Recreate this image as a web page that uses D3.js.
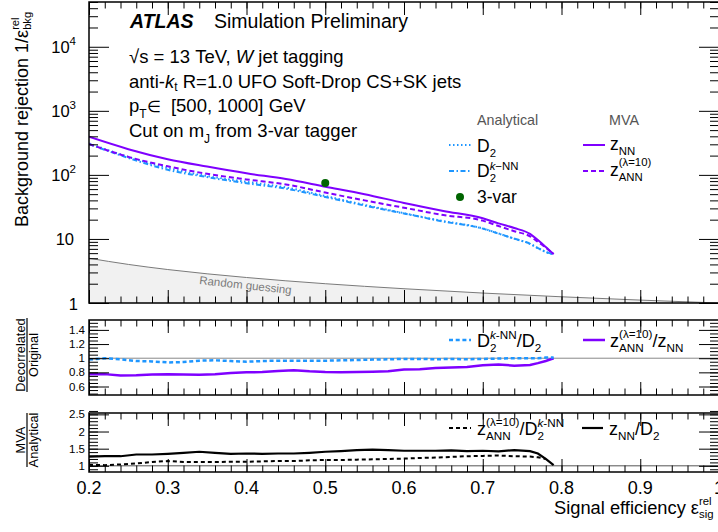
<!DOCTYPE html>
<html><head><meta charset="utf-8">
<script src="https://cdn.jsdelivr.net/npm/d3@7"></script>
<style>
html,body{margin:0;padding:0;background:#fff;}
svg{font-family:"Liberation Sans",Arial,Helvetica,sans-serif;}
</style></head>
<body><svg id="c" width="718" height="532"></svg>
<script>
// ---------------- DATA ----------------
const effMain = [0.2, 0.25, 0.3, 0.35, 0.4, 0.45, 0.5, 0.55, 0.6, 0.65, 0.7, 0.72, 0.74, 0.76, 0.77, 0.78, 0.79];
const rejZNN   = [393, 252, 176, 135, 106, 86, 65.5, 50, 36.5, 27.4, 21, 17.5, 14.8, 12, 9.6, 7.5, 5.8];
const rejZANN  = [303, 191, 136, 104, 85, 71, 53, 40, 30.7, 23.6, 19.3, 15.9, 13.2, 11, 9.0, 7.3, 5.8];
const rejD2    = [309, 191, 128, 96, 78, 63.7, 46.8, 34, 25.2, 19, 14.6, 12.2, 10.1, 8.4, 7.2, 6.25, 5.7];
const rejD2kNN = [303, 184, 120, 92.4, 74, 61, 45.2, 33.2, 25, 18.7, 14.5, 12.1, 10.1, 8.4, 7.2, 6.3, 5.75];
const randomEff = [0.2, 0.25, 0.3, 0.4, 0.5, 0.6, 0.7, 0.8, 0.9, 1.0];
const randomRej = [5, 4, 3.33, 2.5, 2, 1.67, 1.43, 1.25, 1.11, 1];
const threeVarEff = [0.5];
const threeVarRej = [75];

const effRatio = [0.2,0.22,0.24,0.26,0.28,0.3,0.32,0.34,0.36,0.38,0.4,0.42,0.44,0.46,0.48,0.5,0.52,0.54,0.56,0.58,0.6,0.62,0.64,0.66,0.68,0.7,0.72,0.74,0.76,0.77,0.78,0.79];
const ratioD2kNN_D2 = [0.98,1.0,0.985,0.96,0.955,0.94,0.945,0.965,0.97,0.96,0.95,0.96,0.965,0.965,0.965,0.965,0.97,0.975,0.98,0.985,0.99,0.99,0.985,0.99,0.985,0.99,0.995,1.0,1.0,1.0,1.01,1.01];
const ratioZANN_ZNN = [0.775,0.775,0.755,0.76,0.77,0.775,0.77,0.765,0.775,0.79,0.80,0.805,0.82,0.83,0.815,0.805,0.80,0.805,0.81,0.815,0.84,0.845,0.86,0.87,0.875,0.9,0.91,0.895,0.905,0.93,0.96,1.0];
const ratioZNN_D2 = [1.27,1.28,1.28,1.33,1.33,1.35,1.38,1.41,1.38,1.35,1.36,1.35,1.36,1.36,1.38,1.41,1.43,1.46,1.47,1.46,1.44,1.44,1.44,1.45,1.43,1.44,1.42,1.46,1.43,1.36,1.2,1.02];
const ratioZANN_D2kNN = [1.03,1.02,1.04,1.07,1.11,1.14,1.11,1.11,1.11,1.12,1.12,1.13,1.14,1.14,1.16,1.17,1.17,1.18,1.19,1.20,1.21,1.23,1.24,1.26,1.28,1.29,1.30,1.28,1.27,1.25,1.2,null];

const xTickValues = [0.2,0.3,0.4,0.5,0.6,0.7,0.8,0.9,1.0];
const xTickLabels = ["0.2","0.3","0.4","0.5","0.6","0.7","0.8","0.9","1"];
const mainYTicks = [1,10,100,1000,10000];
const mainYExp = ["1","10","2","3","4"];
const midYTicks = [0.6,0.8,1,1.2,1.4];
const midYLabels = ["0.6","0.8","1","1.2","1.4"];
const botYTicks = [1,1.5,2,2.5];
const botYLabels = ["1","1.5","2","2.5"];

// ---------------- STYLE ----------------
const BLUE = "#1e96ff", PURPLE = "#7f00ff", GREEN = "#006400";
const svg = d3.select("#c");
const L = 89, R = 719;
const x = d3.scaleLinear().domain([0.2, 1.0]).range([L, R]);
const yMain = d3.scaleLog().domain([1, 5e4]).range([303, 2]);
const yMid = d3.scaleLinear().domain([0.48, 1.54]).range([395, 320]);
const yBot = d3.scaleLinear().domain([0.82, 2.54]).range([472, 413]);

// rich text helper
function rich(parent, px, py, parts, size, opt = {}) {
  const g = parent.append("g");
  let cx = 0;
  const draw = (p, sx) => {
    const fs = size * (p.s || 1);
    const t = g.append("text").attr("x", sx).attr("y", (p.dy || 0) * size)
      .attr("font-size", fs).text(p.t.replace(/ /g, "\u00A0"));
    if (p.it) t.attr("font-style", "italic");
    if (p.b) t.attr("font-weight", "bold");
    return t.node().getComputedTextLength();
  };
  for (const p of parts) {
    if (p.stack) {
      let w = 0;
      for (const seq of p.stack) { let sx = cx; for (const q of seq) sx += draw(q, sx); w = Math.max(w, sx - cx); }
      cx += w;
    } else cx += draw(p, cx);
  }
  const off = opt.anchor === "end" ? -cx : opt.anchor === "middle" ? -cx / 2 : 0;
  g.attr("transform", `translate(${px},${py})${opt.rotate != null ? ` rotate(${opt.rotate})` : ""} translate(${off},0)`);
  g.attr("fill", opt.fill || "#000");
  return g;
}
const P = (t, o = {}) => Object.assign({ t }, o);
const SUP = (t, o = {}) => Object.assign({ t, s: 0.65, dy: -0.42 }, o);
const SUB = (t, o = {}) => Object.assign({ t, s: 0.65, dy: 0.3 }, o);

function frameTicks(top, bottom, yScale, yMaj, yMin, majY, minY) {
  const g = svg.append("g");
  const xMaj = xTickValues;
  const xMin = d3.range(0, 41).map(i => 0.2 + i * 0.02);
  const add = (axis, tr) => {
    const a = g.append("g").attr("transform", tr).call(axis);
    a.select(".domain").remove();
    a.selectAll(".tick line").attr("stroke", "#000").attr("stroke-width", 1);
  };
  add(d3.axisBottom(x).tickValues(xMin).tickSize(-6.5).tickFormat(""), `translate(0,${bottom})`);
  add(d3.axisBottom(x).tickValues(xMaj).tickSize(-13).tickFormat(""), `translate(0,${bottom})`);
  add(d3.axisTop(x).tickValues(xMin).tickSize(-6.5).tickFormat(""), `translate(0,${top})`);
  add(d3.axisTop(x).tickValues(xMaj).tickSize(-13).tickFormat(""), `translate(0,${top})`);
  add(d3.axisLeft(yScale).tickValues(yMin).tickSize(-minY).tickFormat(""), `translate(${L},0)`);
  add(d3.axisLeft(yScale).tickValues(yMaj).tickSize(-majY).tickFormat(""), `translate(${L},0)`);
  add(d3.axisRight(yScale).tickValues(yMin).tickSize(-minY).tickFormat(""), `translate(${R},0)`);
  add(d3.axisRight(yScale).tickValues(yMaj).tickSize(-majY).tickFormat(""), `translate(${R},0)`);
  svg.append("rect").attr("x", L).attr("y", top).attr("width", R - L).attr("height", bottom - top)
    .attr("fill", "none").attr("stroke", "#000").attr("stroke-width", 1.5);
}

const defs = svg.append("defs");
function clip(id, top, bottom) {
  defs.append("clipPath").attr("id", id).append("rect").attr("x", L).attr("y", top).attr("width", R - L).attr("height", bottom - top);
}
clip("cm", 2, 303); clip("cr", 320, 395); clip("cb", 413, 472);

// ---------------- MAIN PANEL ----------------
const gm = svg.append("g").attr("clip-path", "url(#cm)");
const randPts = randomEff.map((e, i) => [e, randomRej[i]]);
gm.append("path").datum(randPts)
  .attr("d", d3.area().x(d => x(d[0])).y0(yMain(1)).y1(d => yMain(d[1])).curve(d3.curveMonotoneX))
  .attr("fill", "#f1f1f1");
gm.append("path").datum(randPts)
  .attr("d", d3.line().x(d => x(d[0])).y(d => yMain(d[1])).curve(d3.curveMonotoneX))
  .attr("fill", "none").attr("stroke", "#7a7a7a").attr("stroke-width", 1);

const mline = d3.line().x(d => x(d[0])).y(d => yMain(d[1])).curve(d3.curveMonotoneX);
const series = [
  { v: rejD2, c: BLUE, dash: "1.5,2.5", w: 2 },
  { v: rejD2kNN, c: BLUE, dash: "5,2.5,1.5,2.5", w: 2 },
  { v: rejZANN, c: PURPLE, dash: "5,3", w: 2 },
  { v: rejZNN, c: PURPLE, dash: null, w: 2 }
];
series.forEach(s => {
  gm.append("path").datum(effMain.map((e, i) => [e, s.v[i]])).attr("d", mline)
    .attr("fill", "none").attr("stroke", s.c).attr("stroke-width", s.w)
    .attr("stroke-dasharray", s.dash);
});
gm.selectAll("circle.p3").data(threeVarEff.map((e, i) => [e, threeVarRej[i]])).join("circle")
  .attr("cx", d => x(d[0])).attr("cy", d => yMain(d[1])).attr("r", 4).attr("fill", GREEN);

rich(svg, 199, 284, [P("Random guessing")], 11.5, { rotate: 6.2, fill: "#7a7a7a" });

const mainMin = [];
for (let dec = 1; dec <= 10000; dec *= 10) for (let k = 2; k <= 9; k++) if (k * dec <= 5e4) mainMin.push(k * dec);
frameTicks(2, 303, yMain, mainYTicks, mainMin, 20, 9);

// main y labels
mainYTicks.forEach((v, i) => {
  const yy = yMain(v) + 6;
  if (v === 1) rich(svg, 78, yy + 1, [P("1")], 16.5, { anchor: "end" });
  else if (v === 10) rich(svg, 74, yy, [P("10")], 16.5, { anchor: "end" });
  else rich(svg, 76, yy, [P("10"), SUP(mainYExp[i], { s: 0.7, dy: -0.45 })], 16.5, { anchor: "end" });
});
rich(svg, 28, 227, [P("Background rejection 1/ε"), { stack: [[SUP("rel", { s: 0.62, dy: -0.5 })], [SUB("bkg", { s: 0.62, dy: 0.15 })]] }], 18, { rotate: -90 });

// header texts
rich(svg, 130, 28, [P("ATLAS", { b: true, it: true })], 19.5);
rich(svg, 214, 28, [P("Simulation Preliminary")], 19.5);
rich(svg, 129, 63, [P("√s = 13 TeV, "), P("W", { it: true }), P(" jet tagging")], 18.5);
rich(svg, 129, 87.5, [P("anti-"), P("k", { it: true }), SUB("t", { dy: 0.2 }), P(" R=1.0 UFO Soft-Drop CS+SK jets")], 18.5);
rich(svg, 129, 112, [P("p"), SUB("T", { dy: 0.35 }), P("∈", { s: 0.85 }), P("  [500, 1000] GeV")], 18.5);
rich(svg, 129, 137, [P("Cut on m"), SUB("J", { dy: 0.35 }), P(" from 3-var tagger")], 18.5);

// legend
rich(svg, 477, 125, [P("Analytical")], 14.3, { fill: "#555" });
rich(svg, 609, 125, [P("MVA")], 14.3, { fill: "#555" });
const legLine = (x1, x2, yy, c, dash, w) => svg.append("line").attr("x1", x1).attr("x2", x2).attr("y1", yy).attr("y2", yy)
  .attr("stroke", c).attr("stroke-width", w).attr("stroke-dasharray", dash);
legLine(449, 471, 145, BLUE, "1.5,2.5", 2);
rich(svg, 477, 152, [P("D"), SUB("2")], 17.5);
legLine(449, 471, 171, BLUE, "5,2.5,1.5,2.5", 2);
rich(svg, 477, 177, [P("D"), { stack: [[SUP("k", { it: true }), SUP("−NN")], [SUB("2")]] }], 17.5);
svg.append("circle").attr("cx", 460).attr("cy", 197).attr("r", 4).attr("fill", GREEN);
rich(svg, 477, 203, [P("3-var")], 17.5);
legLine(583, 605, 145, PURPLE, null, 2);
rich(svg, 610, 150, [P("z"), SUB("NN")], 17.5);
legLine(583, 605, 171, PURPLE, "5,3", 2);
rich(svg, 610, 176, [P("z"), { stack: [[SUP("(λ=10)", { dy: -0.55 })], [SUB("ANN")]] }], 17.5);

// ---------------- MIDDLE PANEL ----------------
const gr = svg.append("g").attr("clip-path", "url(#cr)");
gr.append("line").attr("x1", L).attr("x2", R).attr("y1", yMid(1)).attr("y2", yMid(1)).attr("stroke", "#888").attr("stroke-width", 1);
const rline = d3.line().defined(d => d[1] != null).x(d => x(d[0])).y(d => yMid(d[1]));
gr.append("path").datum(effRatio.map((e, i) => [e, ratioZANN_ZNN[i]])).attr("d", rline)
  .attr("fill", "none").attr("stroke", PURPLE).attr("stroke-width", 2.5);
gr.append("path").datum(effRatio.map((e, i) => [e, ratioD2kNN_D2[i]])).attr("d", rline)
  .attr("fill", "none").attr("stroke", BLUE).attr("stroke-width", 2.5).attr("stroke-dasharray", "4,2.7");
frameTicks(320, 395, yMid, midYTicks, d3.range(0, 21).map(i => 0.5 + i * 0.05), 20, 9);
midYTicks.forEach((v, i) => rich(svg, 85, yMid(v) + 4, [P(midYLabels[i])], 11.5, { anchor: "end" }));
legLine(449, 471, 340, BLUE, "4,2.7", 2.5);
rich(svg, 477, 347, [P("D"), { stack: [[SUP("k", { it: true }), SUP("-NN")], [SUB("2")]] }, P("/D"), SUB("2")], 18);
legLine(583, 605, 340, PURPLE, null, 2.5);
rich(svg, 610, 347, [P("z"), { stack: [[SUP("(λ=10)", { dy: -0.5 })], [SUB("ANN")]] }, P("/z"), SUB("NN")], 18);
const frac = (cx, cy, top, bottom, half) => {
  const g = svg.append("g").attr("transform", `translate(${cx},${cy}) rotate(-90)`);
  g.append("line").attr("x1", -half).attr("x2", half).attr("y1", 0).attr("y2", 0).attr("stroke", "#000").attr("stroke-width", 1.2);
  rich(g, 0, -2.5, [P(top)], 12.8, { anchor: "middle" });
  rich(g, 0, 11, [P(bottom)], 12.8, { anchor: "middle" });
};
frac(27, 355, "Decorrelated", "Original", 37);

// ---------------- BOTTOM PANEL ----------------
const gb = svg.append("g").attr("clip-path", "url(#cb)");
gb.append("line").attr("x1", L).attr("x2", R).attr("y1", yBot(1)).attr("y2", yBot(1)).attr("stroke", "#555").attr("stroke-width", 1);
const bline = d3.line().defined(d => d[1] != null).x(d => x(d[0])).y(d => yBot(d[1]));
gb.append("path").datum(effRatio.map((e, i) => [e, ratioZNN_D2[i]])).attr("d", bline)
  .attr("fill", "none").attr("stroke", "#000").attr("stroke-width", 2.2);
gb.append("path").datum(effRatio.map((e, i) => [e, ratioZANN_D2kNN[i]])).attr("d", bline)
  .attr("fill", "none").attr("stroke", "#000").attr("stroke-width", 2).attr("stroke-dasharray", "4,3");
frameTicks(413, 472, yBot, botYTicks, d3.range(0, 18).map(i => 0.9 + i * 0.1), 20, 9);
botYTicks.forEach((v, i) => rich(svg, 85, yBot(v) + 4, [P(botYLabels[i])], 11.5, { anchor: "end" }));
legLine(449, 471, 428, "#000", "4,3", 2);
rich(svg, 477, 435, [P("z"), { stack: [[SUP("(λ=10)", { dy: -0.5 })], [SUB("ANN")]] }, P("/D"), { stack: [[SUP("k", { it: true }), SUP("-NN")], [SUB("2")]] }], 18);
legLine(582, 603, 428, "#000", null, 2.2);
rich(svg, 609, 435, [P("z"), SUB("NN"), P("/D"), SUB("2")], 18);
frac(27, 440, "MVA", "Analytical", 27);

// x labels
xTickValues.forEach((v, i) => rich(svg, x(v), 494, [P(xTickLabels[i])], 18, { anchor: "middle" }));
rich(svg, 554, 514, [P("Signal efficiency ε"), { stack: [[SUP("rel", { s: 0.62, dy: -0.5 })], [SUB("sig", { s: 0.62, dy: 0.2 })]] }], 18.3);
</script></body></html>
